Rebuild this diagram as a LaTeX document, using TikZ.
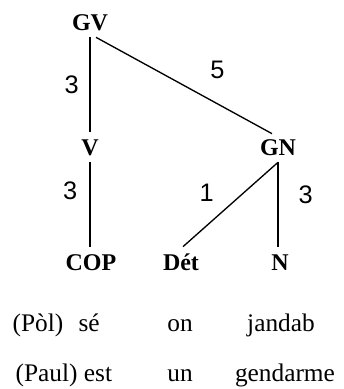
\documentclass[tikz,border=0pt]{standalone}
\usepackage{fontspec}
\setmainfont{Liberation Serif}
\newfontfamily\numfont{Liberation Sans}
\usetikzlibrary{calc,positioning}

\begin{document}
\begin{tikzpicture}[x=0.75pt, y=-0.75pt, line width=1pt,
    cat/.style={font=\fontsize{18}{20}\selectfont\bfseries, text height=12pt, text depth=0pt, inner xsep=1pt, inner ysep=5pt},
    num/.style={font=\numfont\fontsize{19}{21}\selectfont, inner sep=2pt},
    word/.style={font=\fontsize{19}{21}\selectfont, inner sep=0pt}]
    \useasboundingbox (0,0) rectangle (343,389);
    % categories
    \node[cat] (gv) at (90,22) {GV};
    \node[cat] (v) at (90,147) {V};
    \node[cat] (gn) at (278,147) {GN};
    \node[cat] (cop) at (91,262) {COP};
    \node[cat] (det) at (181,262) {Dét};
    \node[cat] (n) at (280,262) {N};
    % branches
    \draw (gv.south) -- node[num, left=6pt] {3} (v.north);
    \draw ($(gv.south)+(6,0)$) -- node[num, pos=.69, above=16pt] {5} ($(gn.north)+(-6,2)$);
    \draw (v.south) -- node[num, pos=.34, left=7pt] {3} (v.south |- cop.north);
    \draw (gn.south) -- node[num, pos=.36, left=20pt] {1} ($(det.north)+(2,0)$);
    \draw (gn.south) -- node[num, pos=.38, right=13pt] {3} (gn.south |- n.north);
    % words
    \node[word, anchor=base west] (pol) at (12,331) {(Pòl)\hspace{0.6em}sé};
    \node[word, anchor=base] (on) at (180,331) {on};
    \node[word, anchor=base] (jandab) at (281,331) {jandab};
    \node[word, anchor=base west] (paul) at (15,381) {(Paul) est};
    \node[word, anchor=base] (un) at (180,381) {un};
    \node[word, anchor=base] (gendarme) at (285,381) {gendarme};
\end{tikzpicture}
\end{document}
